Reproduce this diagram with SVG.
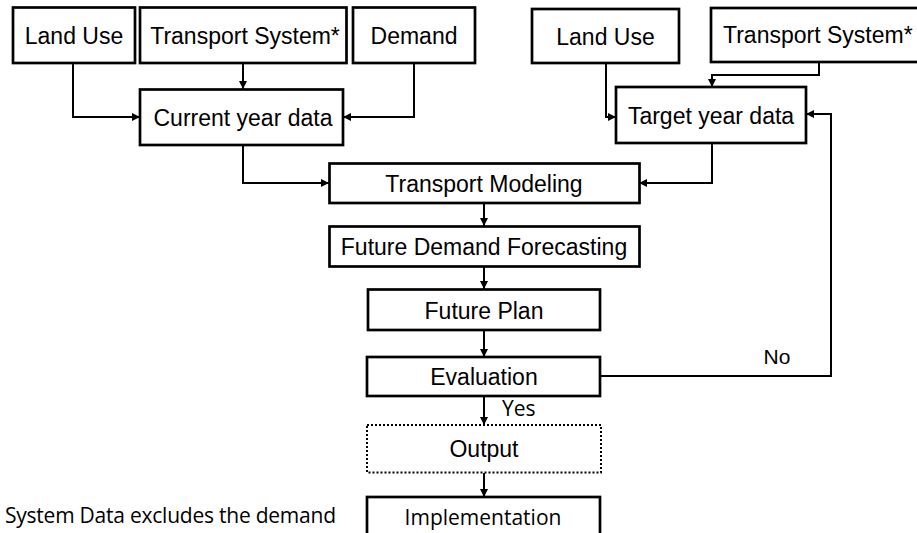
<svg xmlns="http://www.w3.org/2000/svg" width="917" height="533" viewBox="0 0 917 533">
  <style>
    .box { fill: #fff; stroke: #000; stroke-width: 2.7; }
    .dot { fill: #fff; stroke: #000; stroke-width: 2; stroke-dasharray: 2 2; }
    .lbl { font-family: "Liberation Sans", Arial, sans-serif; font-size: 23px; fill: #000; text-anchor: middle; }
    .note { font-family: "Open Sans", "Noto Sans", sans-serif; font-size: 21px; fill: #000; }
    .edge { fill: none; stroke: #000; stroke-width: 2; marker-end: url(#arr); }
  </style>
  <defs>
    <marker id="arr" viewBox="0 0 8 8" refX="8" refY="4" markerWidth="4" markerHeight="4" orient="auto" markerUnits="strokeWidth">
      <path d="M0,0 L8,4 L0,8 z" fill="#000"/>
    </marker>
  </defs>
  <rect width="917" height="533" fill="#fff"/>

  <!-- connectors -->
  <g id="connectors">
    <path class="edge" d="M73,63 V117 H140"/>
    <path class="edge" d="M243,63 V89"/>
    <path class="edge" d="M414,63 V117 H343"/>
    <path class="edge" d="M606,63 V117 H616"/>
    <path class="edge" d="M819,62 V75 H712 V87"/>
    <path class="edge" d="M243,145 V183 H329"/>
    <path class="edge" d="M712,143 V183 H639"/>
    <path class="edge" d="M484,203 V226"/>
    <path class="edge" d="M484,267 V289"/>
    <path class="edge" d="M484,330 V357"/>
    <path class="edge" d="M484,396 V425"/>
    <path class="edge" d="M484,473 V497"/>
    <path class="edge" d="M600,376 H831 V114 H806"/>
    <text class="note" x="502" y="416">Yes</text>
    <text class="lbl" x="777" y="364" style="font-size:21px">No</text>
  </g>

  <g id="landuse-current">
    <rect class="box" x="13" y="7.5" width="122" height="55.5"/>
    <text class="lbl" x="74" y="43.5">Land Use</text>
  </g>
  <g id="transport-current">
    <rect class="box" x="140" y="7.5" width="206.5" height="55.5"/>
    <text class="lbl" x="245" y="43.5">Transport System*</text>
  </g>
  <g id="demand">
    <rect class="box" x="353" y="7.5" width="122" height="55.5"/>
    <text class="lbl" x="414" y="43.5">Demand</text>
  </g>
  <g id="current-year">
    <rect class="box" x="140" y="89.5" width="203" height="55.5"/>
    <text class="lbl" x="243" y="125.5">Current year data</text>
  </g>

  <g id="landuse-target">
    <rect class="box" x="532" y="9" width="147" height="54"/>
    <text class="lbl" x="605.5" y="44.5">Land Use</text>
  </g>
  <g id="transport-target">
    <rect class="box" x="711" y="8" width="210" height="54"/>
    <text class="lbl" x="723" y="43" style="text-anchor:start">Transport System*</text>
  </g>
  <g id="target-year">
    <rect class="box" x="616" y="87" width="190" height="56"/>
    <text class="lbl" x="711" y="123.5">Target year data</text>
  </g>

  <g id="modeling">
    <rect class="box" x="329.5" y="163.5" width="310" height="39.5"/>
    <text class="lbl" x="484" y="191.5">Transport Modeling</text>
  </g>
  <g id="forecasting">
    <rect class="box" x="329.5" y="226.5" width="310" height="40"/>
    <text class="lbl" x="484" y="255">Future Demand Forecasting</text>
  </g>
  <g id="plan">
    <rect class="box" x="368" y="289.5" width="232" height="40.5"/>
    <text class="lbl" x="484" y="318.5">Future Plan</text>
  </g>
  <g id="evaluation">
    <rect class="box" x="367" y="357" width="233" height="39"/>
    <text class="lbl" x="484" y="385">Evaluation</text>
  </g>
  <g id="output">
    <rect class="dot" x="367" y="425" width="234" height="47.5"/>
    <text class="lbl" x="484" y="456.5">Output</text>
  </g>
  <g id="implementation">
    <rect class="box" x="367" y="497" width="233" height="45"/>
    <text class="note" x="483" y="525" text-anchor="middle">Implementation</text>
  </g>

  <text class="note" x="5" y="523" textLength="331">System Data excludes the demand</text>
</svg>
